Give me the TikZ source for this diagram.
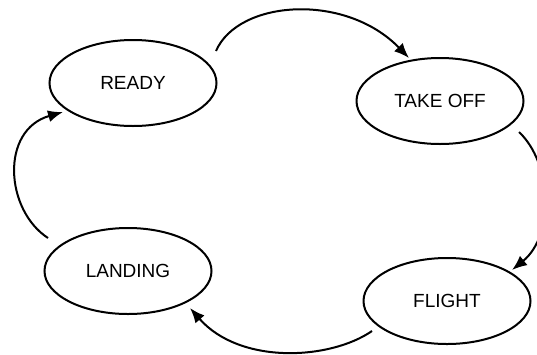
\documentclass[tikz,border=0pt]{standalone}
\usepackage{fontspec}
\setmainfont{Liberation Sans}
\usetikzlibrary{shapes.geometric,arrows.meta,calc}
\begin{document}
\begin{tikzpicture}[x=1pt,y=-1pt,
  state/.style={ellipse,draw,line width=2pt,minimum width=167pt,minimum height=86pt,inner sep=0pt,font=\fontsize{19}{21}\selectfont},
  trans/.style={line width=2pt,-{Latex[length=15pt,width=12pt]}}]
\useasboundingbox (0,0) rectangle (537,354);
\clip (0,0) rectangle (537,354);
\node[state] (ready) at (133,83) {READY};
\node[state] (takeoff) at (440,101) {TAKE OFF};
\node[state] (landing) at (128,271) {LANDING};
\node[state] (flight) at (447,301) {FLIGHT};
\draw[trans] ($(ready)+(83,-32)$) .. controls ($(ready)+(105,-83)$) and ($(takeoff)+(-95,-109)$) .. ($(takeoff)+(-31,-43)$);
\draw[trans] ($(takeoff)+(79,31)$) .. controls ($(takeoff)+(112,62)$) and ($(flight)+(108,-66)$) .. ($(flight)+(65,-31)$);
\draw[trans] ($(flight)+(-75,30)$) .. controls ($(flight)+(-117,59)$) and ($(landing)+(112,94)$) .. ($(landing)+(62,37)$);
\draw[trans] ($(landing)+(-80,-33)$) .. controls ($(landing)+(-123,-61)$) and ($(ready)+(-133,47)$) .. ($(ready)+(-70,29)$);
\end{tikzpicture}
\end{document}
